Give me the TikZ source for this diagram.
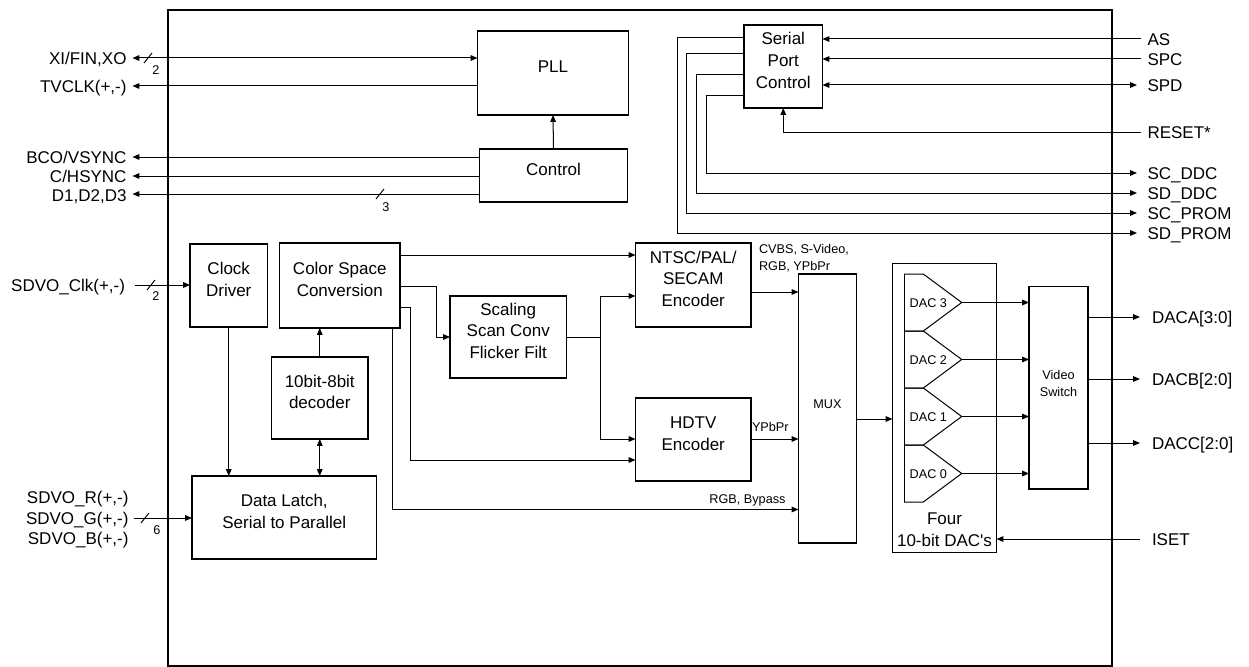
\documentclass[tikz,border=0pt]{standalone}
\usepackage{fontspec}
\setmainfont{Liberation Sans}[Ligatures=TeXOff]
\usetikzlibrary{arrows.meta,fit,calc}
\newcommand{\mainf}{\fontsize{12.75pt}{16.3pt}\selectfont}
\newcommand{\smallf}{\fontsize{9.5pt}{12.6pt}\selectfont}
\begin{document}
\begin{tikzpicture}[x=0.75pt,y=-0.75pt,
 every node/.style={inner sep=0pt, outer sep=0pt},
 box/.style={draw, line width=0.8pt, align=center, font=\mainf},
 chipbox/.style={draw, line width=2pt},
 ln/.style={line width=0.75pt},
 arr/.style={ln, -{Triangle[length=5.2pt,width=4.2pt]}},
 barr/.style={ln, {Triangle[length=5.2pt,width=4.2pt]}-{Triangle[length=5.2pt,width=4.2pt]}},
 lbl/.style={font=\mainf, text height=9.1pt, text depth=0pt},
 sml/.style={font=\smallf},
 dacshape/.style={draw, line width=0.75pt},
]
\useasboundingbox (0,0) rectangle (1249,667);

% chip outline
\node[chipbox, fit={(168,10)(1112,666)}] (chip) {};

% blocks
\node[box, fit={(477.5,31)(628.5,115)}] (pll) {PLL};
\node[box, fit={(479.5,149)(627.5,202)}] (ctrl) {Control};
\node[box, fit={(744,25)(822.5,108)}] (spc) {Serial\\Port\\Control};
\node[box, fit={(190,244)(267.5,327)}] (clk) {Clock\\Driver};
\node[box, fit={(279.5,243)(400,328)}] (csc) {Color Space\\Conversion};
\node[box, fit={(271.5,357)(368,439)}] (dec) {10bit-8bit\\decoder};
\node[box, fit={(192,476)(376.5,559)}] (latch) {Data Latch,\\Serial to Parallel};
\node[box, fit={(450,296)(566.5,378)}] (scal) {Scaling\\Scan Conv\\Flicker Filt};
\node[box, fit={(635.5,243)(751,327)}] (ntsc) {NTSC/PAL/\\SECAM\\Encoder};
\node[box, fit={(635.5,398)(751,481)}] (hdtv) {HDTV\\Encoder};
\node[box, fit={(798.5,274)(856.5,543)}, font=\smallf] (mux) {MUX};
\node[box, fit={(892.5,263.5)(996.5,552.5)}] (dacs) {};
\node[font=\mainf, align=center] (daclbl) at (944.5,530) {Four\\10-bit DAC's};
\node[box, fit={(1029,286.5)(1088,489)}, font=\smallf] (vsw) {Video\\Switch};

% DAC elements
\foreach \t/\n in {274/3, 331/2, 388/1, 445/0}{
  \draw[dacshape] (904,\t) -- (923.3,\t) -- (961.7,\t+28.5) -- (923.3,\t+57) -- (904,\t+57);
  \node[sml] (dl\n) at (928.3,\t+29) {DAC \n};
  \coordinate (d\n) at (961.7,\t+28.5);
}
\draw[dacshape] (904,274) -- (904,502);

% left pins
\coordinate (pXI) at (132.5,58);
\coordinate (pTV) at (132.5,86);
\coordinate (pBCO) at (132.5,157);
\coordinate (pCH) at (132.5,176);
\coordinate (pD) at (132.5,194);
\coordinate (pCLK) at (134.5,285);
\coordinate (pSD) at (133.5,518);

\node[lbl, anchor=east] (lXI) at (126.5,58) {XI/FIN,XO};
\node[lbl, anchor=east] (lTV) at (126.5,86) {TVCLK(+,-)};
\node[lbl, anchor=east] (lBCO) at (126.5,157) {BCO/VSYNC};
\node[lbl, anchor=east] (lCH) at (126.5,176) {C/HSYNC};
\node[lbl, anchor=east] (lD) at (126.5,195) {D1,D2,D3};
\node[lbl, anchor=east] (lCLK) at (125,285) {SDVO\_Clk(+,-)};
\node[lbl, anchor=east] (lR) at (128.5,497) {SDVO\_R(+,-)};
\node[lbl, anchor=east] (lG) at (128.5,518) {SDVO\_G(+,-)};
\node[lbl, anchor=east] (lB) at (128.5,538.5) {SDVO\_B(+,-)};

\draw[barr] (pXI) -- (pll.west |- pXI);
\draw[arr] (pll.west |- pTV) -- (pTV);
\draw[arr] (ctrl.west |- pBCO) -- (pBCO);
\draw[arr] (ctrl.west |- pCH) -- (pCH);
\draw[arr] (ctrl.west |- pD) -- (pD);
\draw[arr] (ctrl.north) -- (pll.south);
\draw[arr] (pCLK) -- (clk.west |- pCLK);
\draw[arr] (pSD) -- (latch.west |- pSD);

% bus marks
\draw[ln] (144,63) -- (152,53);
\node[sml] (b1) at (156,70) {2};
\draw[ln] (376,199) -- (384,189);
\node[sml] (b2) at (386,207) {3};
\draw[ln] (147,290) -- (155,280);
\node[sml] (b3) at (156,296) {2};
\draw[ln] (141,523) -- (149,513);
\node[sml] (b4) at (157,530) {6};

% right pins (serial)
\coordinate (pAS) at (1141,39);
\coordinate (pSPC) at (1141,59);
\coordinate (pSPD) at (1137,85);
\coordinate (pRST) at (1141,132);
\coordinate (pSCD) at (1137,173);
\coordinate (pSDD) at (1137,193);
\coordinate (pSCP) at (1137,213);
\coordinate (pSDP) at (1137,233);
\node[lbl, anchor=west] (lAS) at (1147.5,39) {AS};
\node[lbl, anchor=west] (lSPC) at (1147.5,59) {SPC};
\node[lbl, anchor=west] (lSPD) at (1147.5,85) {SPD};
\node[lbl, anchor=west] (lRST) at (1147.5,132) {RESET*};
\node[lbl, anchor=west] (lSCD) at (1147.5,173) {SC\_DDC};
\node[lbl, anchor=west] (lSDD) at (1147.5,193) {SD\_DDC};
\node[lbl, anchor=west] (lSCP) at (1147.5,213) {SC\_PROM};
\node[lbl, anchor=west] (lSDP) at (1147.5,233) {SD\_PROM};

\draw[arr] (pAS) -- (spc.east |- pAS);
\draw[arr] (pSPC) -- (spc.east |- pSPC);
\draw[barr] (spc.east |- pSPD) -- (pSPD);
\draw[arr] (pRST) -| (spc.south);
\draw[arr] (spc.west |- 0,96) -- (706,96) |- (pSCD);
\draw[arr] (spc.west |- 0,75) -- (696.3,75) |- (pSDD);
\draw[arr] (spc.west |- 0,54) -- (686.6,54) |- (pSCP);
\draw[arr] (spc.west |- 0,38) -- (677,38) |- (pSDP);

% internal data path
\draw[arr] (clk.south) -- (latch.north -| clk.south);
\draw[barr] (dec.south) -- (latch.north -| dec.south);
\draw[arr] (dec.north) -- (csc.south -| dec.north);
\draw[arr] (csc.east |- 0,255) -- (ntsc.west |- 0,255);
\draw[arr] (csc.east |- 0,286) -- (436.7,286) |- (scal.west |- 0,337);
\draw[arr] (csc.east |- 0,307) -- (410,307) |- (hdtv.west |- 0,460);
\draw[arr] (csc.south -| 392.7,0) |- (mux.west |- 0,509.5);
\draw[ln] (scal.east) -- (600,337);
\draw[arr] (600,337) |- (ntsc.west |- 0,296);
\draw[arr] (600,337) |- (hdtv.west |- 0,439);
\draw[arr] (ntsc.east |- 0,292) -- (mux.west |- 0,292);
\draw[arr] (hdtv.east |- 0,439) -- (mux.west |- 0,439);
\draw[arr] (mux.east |- 0,419) -- (dacs.west |- 0,419);
\node[sml, align=left, anchor=west] (lcv) at (759,258) {CVBS, S-Video,\\RGB, YPbPr};
\node[sml, anchor=west] (lyp) at (752,427) {YPbPr};
\node[sml, anchor=east] (lbp) at (785.5,500) {RGB, Bypass};

\foreach \n in {3,2,1,0}{
  \draw[arr] (d\n) -- (vsw.west |- d\n);
}

% outputs
\coordinate (pDA) at (1140,317);
\coordinate (pDB) at (1140,379);
\coordinate (pDC) at (1140,443);
\coordinate (pIS) at (1140,539);
\draw[arr] (vsw.east |- pDA) -- (pDA);
\draw[arr] (vsw.east |- pDB) -- (pDB);
\draw[arr] (vsw.east |- pDC) -- (pDC);
\draw[arr] (pIS) -- (dacs.east |- pIS);
\node[lbl, anchor=west] (lDA) at (1152,317) {DACA[3:0]};
\node[lbl, anchor=west] (lDB) at (1152,379) {DACB[2:0]};
\node[lbl, anchor=west] (lDC) at (1152,443) {DACC[2:0]};
\node[lbl, anchor=west] (lIS) at (1152,539) {ISET};
\end{tikzpicture}
\end{document}
